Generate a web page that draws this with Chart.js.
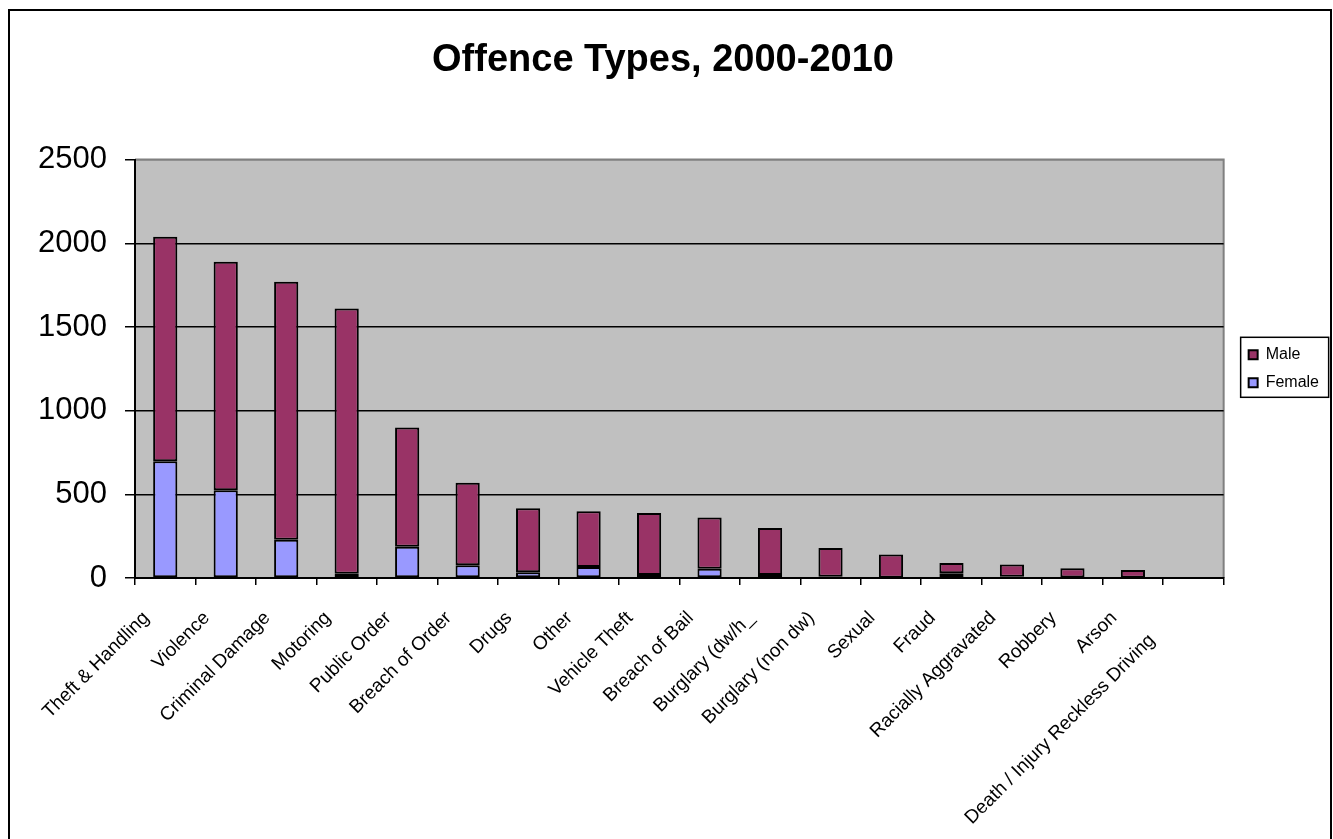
<!DOCTYPE html>
<html><head><meta charset="utf-8">
<script src="https://cdn.jsdelivr.net/npm/chart.js@4/dist/chart.umd.min.js"></script>
<style>
html,body{margin:0;padding:0;background:#fff;overflow:hidden;}
#frame{position:absolute;left:8px;top:9px;width:1320px;height:832px;border:2px solid #000;background:#fff;}
#c{display:block;}
</style></head><body>
<div id="frame"><canvas id="c" width="1320" height="832"></canvas></div>
<script>
const categories = ["Theft & Handling","Violence","Criminal Damage","Motoring","Public Order","Breach of Order","Drugs","Other","Vehicle Theft","Breach of Bail","Burglary (dw/h_","Burglary (non dw)","Sexual","Fraud","Racially Aggravated","Robbery","Arson","Death / Injury Reckless Driving"];
const femaleValues = [698, 525, 228, 26, 186, 76, 34, 66, 18, 56, 18, 8, 2, 28, 8, 3, 1, 0];
const maleValues   = [1341, 1364, 1542, 1584, 714, 493, 383, 333, 371, 305, 281, 172, 138, 62, 72, 55, 47, 0];
const yTickValues = [0, 500, 1000, 1500, 2000, 2500];
const chartTitle = "Offence Types, 2000-2010";

const FONT = "'Liberation Sans', Arial, sans-serif";
// extra trailing indent (in spaces) for labels Excel pushed further along the diagonal
const labelIndent = { "Death / Injury Reckless Driving": 6 };

const plotBg = {
  id: 'plotBg',
  beforeDraw(chart) {
    const {ctx, chartArea: a} = chart;
    ctx.save();
    ctx.fillStyle = '#C0C0C0';
    ctx.fillRect(a.left, a.top, a.right - a.left, a.bottom - a.top);
    ctx.strokeStyle = '#808080';
    ctx.lineWidth = 2;
    ctx.beginPath();
    ctx.moveTo(a.left, a.top);
    ctx.lineTo(a.right, a.top);
    ctx.lineTo(a.right, a.bottom);
    ctx.stroke();
    ctx.restore();
  }
};

const legendFrame = {
  id: 'legendFrame',
  afterLayout(chart) {
    const lg = chart.legend;
    if (lg) { lg.left += 13; lg.right += 13; }
  },
  afterDraw(chart) {
    const lg = chart.legend;
    if (!lg || !lg.legendHitBoxes || !lg.legendHitBoxes.length) return;
    const hb = lg.legendHitBoxes;
    const last = hb[hb.length - 1];
    const left = hb[0].left - 8;
    const top = hb[0].top - 9.5;
    const bottom = last.top + last.height + 6.5;
    const {ctx} = chart;
    ctx.save();
    ctx.strokeStyle = '#000';
    ctx.lineWidth = 1.5;
    ctx.strokeRect(left, top, 88, bottom - top);
    ctx.restore();
  }
};

new Chart(document.getElementById('c'), {
  type: 'bar',
  data: {
    labels: categories,
    datasets: [
      { label: 'Female', data: femaleValues, backgroundColor: '#9999FF', borderColor: '#000', borderWidth: 2, borderSkipped: false, barPercentage: 0.4, categoryPercentage: 1 },
      { label: 'Male', data: maleValues, backgroundColor: '#993366', borderColor: '#000', borderWidth: 2, borderSkipped: false, barPercentage: 0.4, categoryPercentage: 1 }
    ]
  },
  options: {
    responsive: false,
    devicePixelRatio: 1,
    animation: false,
    layout: { padding: { left: 0, right: 14, top: 0, bottom: 0 } },
    plugins: {
      title: {
        display: true,
        text: chartTitle,
        color: '#000',
        font: { family: FONT, size: 38, weight: 'bold' },
        padding: { top: 27, bottom: 76 }
      },
      legend: {
        position: 'right',
        fullSize: false,
        reverse: true,
        labels: {
          boxWidth: 9, boxHeight: 9, padding: 12, color: '#000',
          font: { family: FONT, size: 16 }
        }
      },
      tooltip: { enabled: false }
    },
    scales: {
      x: {
        stacked: true,
        afterFit(s) { s.height = 265; },
        grid: { display: true, drawOnChartArea: false, drawTicks: true, tickLength: 7, color: '#000', lineWidth: 1.5 },
        border: { display: true, color: '#000', width: 2 },
        ticks: {
          autoSkip: false, maxRotation: 45, minRotation: 45, color: '#000',
          padding: 22, labelOffset: -19,
          font: { family: FONT, size: 19 },
          callback(value, index) {
            const name = categories[index];
            return name + ' '.repeat(labelIndent[name] || 0);
          }
        }
      },
      y: {
        stacked: true,
        min: 0, max: 2500,
        afterFit(s) { s.width = 125; },
        afterBuildTicks(s) { s.ticks = yTickValues.map(v => ({ value: v })); },
        grid: { color: ctx => (ctx.tick && ctx.tick.value === 2500) ? '#808080' : '#000', lineWidth: 1.5, tickLength: 10, tickColor: '#000' },
        border: { display: true, color: '#000', width: 2 },
        ticks: { color: '#000', padding: 18, font: { family: FONT, size: 31 }, callback: v => String(v) }
      }
    }
  },
  plugins: [plotBg, legendFrame]
});
</script>
</body></html>
